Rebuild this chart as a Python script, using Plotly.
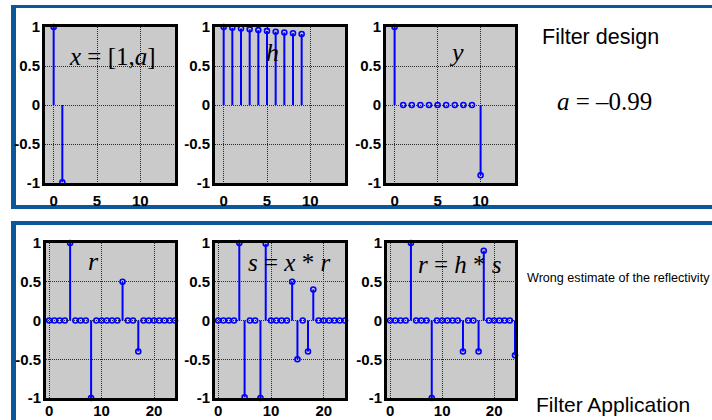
import plotly.graph_objects as go

W, H = 712, 420

# ---------------- data ----------------
n_x = [0, 1]
x_vals = [1.0, -0.99]

n_h = [0, 1, 2, 3, 4, 5, 6, 7, 8, 9]
h_vals = [1.0, 0.99, 0.98, 0.97, 0.96, 0.95, 0.94, 0.93, 0.92, 0.91]

n_y = [0, 1, 2, 3, 4, 5, 6, 7, 8, 9, 10]
y_vals = [1.0, 0, 0, 0, 0, 0, 0, 0, 0, 0, -0.90]

n_long = list(range(25))
r_vals = [0, 0, 0, 0, 1.0, 0, 0, 0, -1.0, 0, 0, 0, 0, 0, 0.5, 0, 0, -0.4, 0, 0, 0, 0, 0, 0, 0]
s_vals = [0, 0, 0, 0, 1.0, -0.99, 0, 0, -1.0, 0.99, 0, 0, 0, 0, 0.5, -0.5, 0, -0.4, 0.4, 0, 0, 0, 0, 0, 0]
rest_vals = [0, 0, 0, 0, 1.0, 0, 0, 0, -1.0, 0, 0, 0, 0, 0, -0.4, 0, 0, -0.4, 0.9, 0, 0, 0, 0, 0, -0.45]

y_ticks = [-1, -0.5, 0, 0.5, 1]
y_ticktext = ["-1", "-0.5", "0", "0.5", "1"]
x_ticks_top = [0, 5, 10]
x_ticks_bot = [0, 10, 20]

series = [
    (n_x, x_vals), (n_h, h_vals), (n_y, y_vals),
    (n_long, r_vals), (n_long, s_vals), (n_long, rest_vals),
]

# ---------------- layout helpers ----------------
def fx(px):
    return px / W

def fy(py):
    return 1 - py / H

# panel boxes in pixels (left, right, top, bottom)
boxes = [
    (45, 175, 27, 183), (215, 345, 27, 183), (386, 515, 27, 183),
    (46, 175, 243, 398), (215, 345, 243, 398), (387, 515, 243, 398),
]

STEM = "#0000ff"
fig = go.Figure()

for i, (nn, vv) in enumerate(series):
    k = "" if i == 0 else str(i + 1)
    xs, ys = [], []
    for a, b in zip(nn, vv):
        xs += [a, a, None]
        ys += [0, b, None]
    fig.add_trace(go.Scatter(x=xs, y=ys, mode="lines", line=dict(color=STEM, width=2),
                             xaxis="x" + k, yaxis="y" + k, hoverinfo="skip",
                             showlegend=False, cliponaxis=False))
    fig.add_trace(go.Scatter(x=nn, y=vv, mode="markers",
                             marker=dict(symbol="circle-open", size=5, color=STEM,
                                         line=dict(width=1.6, color=STEM)),
                             xaxis="x" + k, yaxis="y" + k, showlegend=False,
                             cliponaxis=False))

tickfont = dict(family="Liberation Sans, Arial, sans-serif", size=15, color="black", weight="bold")
layout = dict(width=W, height=H, margin=dict(l=0, r=0, t=0, b=0, pad=0),
              paper_bgcolor="white", plot_bgcolor="#cacaca", showlegend=False)

grid = dict(showgrid=True, gridcolor="#2a2a2a", gridwidth=1, griddash="1px,1px",
            zeroline=False, showline=True, mirror=True, linecolor="black", linewidth=3,
            ticks="", tickfont=tickfont, automargin=False)

for i, (l, r, t, b) in enumerate(boxes):
    k = "" if i == 0 else str(i + 1)
    top = i < 3
    layout["xaxis" + k] = dict(
        domain=[fx(l), fx(r)], anchor="y" + k,
        range=[-1, 14] if top else [-0.6, 24],
        tickvals=x_ticks_top if top else x_ticks_bot,
        ticklabelstandoff=2 if top else -3, **grid,
    )
    layout["yaxis" + k] = dict(
        domain=[fy(b), fy(t)], anchor="x" + k, range=[-1, 1],
        tickvals=y_ticks, ticktext=y_ticktext,
        ticklabelstandoff=-1, **grid,
    )

fig.update_layout(**layout)

# blue panel frames
FRAME = "#0b5799"
def rect(x0, x1, y0, y1):
    fig.add_shape(type="rect", xref="paper", yref="paper",
                  x0=fx(x0), x1=fx(x1), y0=fy(y1), y1=fy(y0),
                  fillcolor=FRAME, line=dict(width=0), layer="below")

rect(11, 712, 5, 8)      # top panel top
rect(11, 16, 5, 209)     # top panel left
rect(11, 712, 205, 209)  # top panel bottom
rect(11, 712, 221, 225)  # bottom panel top
rect(11, 16, 221, 420)   # bottom panel left

serif = "Liberation Serif, Times New Roman, serif"
sans = "Liberation Sans, Arial, sans-serif"

def note(text, x, y, size, family, xanchor="center"):
    fig.add_annotation(text=text, xref="paper", yref="paper", x=fx(x), y=fy(y),
                       xanchor=xanchor, yanchor="middle", showarrow=False,
                       font=dict(family=family, size=size, color="black"))

note("<i>x</i> = [1,<i>a</i>]", 112, 57, 25, serif)
note("<i>h</i>", 272, 52, 26, serif)
note("<i>y</i>", 456, 52, 26, serif)
note("<i>r</i>", 93, 261, 26, serif)
note("<i>s</i> = <i>x</i> * <i>r</i>", 289, 262, 25, serif)
note("<i>r</i> = <i>h</i> * <i>s</i>", 460, 264, 25, serif)
note("<i>a</i> = \u20130.99", 604, 101, 25, serif)
note("Filter design", 600, 37, 21.5, sans)
note("Filter Application", 613, 404, 21, sans)
note("Wrong estimate of the reflectivity", 525, 278, 12.6, sans, xanchor="left")

fig.write_html("out.html")
